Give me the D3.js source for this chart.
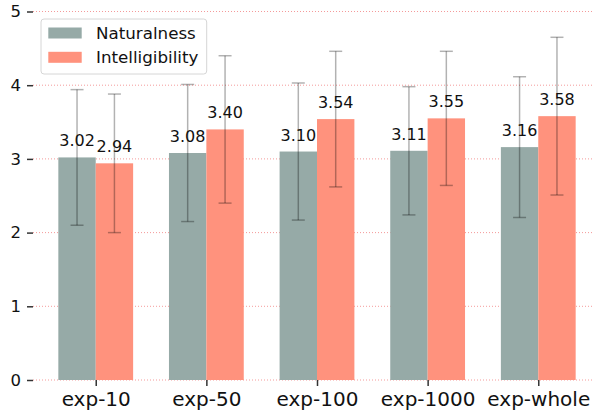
<!DOCTYPE html>
<html><head><meta charset="utf-8">
<script src="https://cdn.jsdelivr.net/npm/d3@7"></script>
<style>body{margin:0;background:#fff}svg{display:block;font-family:"DejaVu Sans",sans-serif}</style>
</head><body>
<svg id="c" width="593" height="412"></svg>
<script>
const categories = ["exp-10","exp-50","exp-100","exp-1000","exp-whole"];
const seriesNames = ["Naturalness","Intelligibility"];
const naturalness = [3.02, 3.08, 3.10, 3.11, 3.16];
const intelligibility = [2.94, 3.40, 3.54, 3.55, 3.58];
const naturalnessErr = [0.92, 0.93, 0.93, 0.87, 0.955];
const intelligibilityErr = [0.94, 1.00, 0.92, 0.91, 1.07];
const yTicks = [0,1,2,3,4,5];
const colors = ["#96aaa7","#ff927d"];

const svg = d3.select("#c");
const mLeft = 33, mRight = 601, mTop = 11.5, mBottom = 380;
const x = d3.scaleLinear().domain([-0.567, 4.567]).range([mLeft, mRight]);
const y = d3.scaleLinear().domain([0,5]).range([mBottom, mTop]);
const bw = 0.338;

// grid
svg.append("g").selectAll("line").data(yTicks).join("line")
  .attr("x1", mLeft).attr("x2", 593)
  .attr("y1", d=>y(d)).attr("y2", d=>y(d))
  .attr("stroke","#f07878").attr("stroke-opacity",0.75)
  .attr("stroke-width",1).attr("stroke-dasharray","1,2");

const series = [
  {name: seriesNames[0], vals: naturalness, err: naturalnessErr, off: -bw/2, color: colors[0]},
  {name: seriesNames[1], vals: intelligibility, err: intelligibilityErr, off: bw/2, color: colors[1]}
];

series.forEach(s => {
  const g = svg.append("g");
  g.selectAll("rect").data(s.vals).join("rect")
    .attr("x", (d,i)=>x(i + s.off - bw/2))
    .attr("width", x(bw) - x(0))
    .attr("y", d=>y(d)).attr("height", d=>y(0)-y(d))
    .attr("fill", s.color);
});

series.forEach(s => {
  const g = svg.append("g").attr("stroke","#000").attr("stroke-opacity",0.3).attr("stroke-width",1.5);
  s.vals.forEach((v,i) => {
    const cx = x(i + s.off);
    const lo = y(v - s.err[i]), hi = y(v + s.err[i]);
    g.append("line").attr("x1",cx).attr("x2",cx).attr("y1",lo).attr("y2",hi);
    g.append("line").attr("x1",cx-6.5).attr("x2",cx+6.5).attr("y1",lo).attr("y2",lo);
    g.append("line").attr("x1",cx-6.5).attr("x2",cx+6.5).attr("y1",hi).attr("y2",hi);
  });
});

// value labels
series.forEach(s => {
  svg.append("g").selectAll("text").data(s.vals).join("text")
    .attr("x",(d,i)=>x(i + s.off))
    .attr("y", d=>y(d) - 11)
    .attr("text-anchor","middle")
    .attr("font-size","16px").attr("fill","#111")
    .text(d=>d.toFixed(2));
});

// y axis
const ya = svg.append("g").attr("transform",`translate(${mLeft},0)`)
  .call(d3.axisLeft(y).tickValues(yTicks).tickFormat(d3.format("d")).tickSize(6).tickPadding(6));
ya.select(".domain").remove();
ya.selectAll(".tick line").attr("stroke","#333").attr("stroke-width",1.5);
ya.selectAll(".tick text").attr("font-size","16.5px").attr("fill","#111").attr("font-family","DejaVu Sans");

// x axis
const xa = svg.append("g").attr("transform",`translate(0,${mBottom})`)
  .call(d3.axisBottom(x).tickValues(d3.range(categories.length)).tickFormat(i=>categories[i]).tickSize(6).tickPadding(6));
xa.select(".domain").remove();
xa.selectAll(".tick line").attr("stroke","#333").attr("stroke-width",1.5);
xa.selectAll(".tick text").attr("font-size","20px").attr("fill","#111").attr("font-family","DejaVu Sans");

// legend
const lg = svg.append("g");
lg.append("rect").attr("x",41).attr("y",19).attr("width",165.7).attr("height",55)
  .attr("rx",3).attr("fill","#fff").attr("fill-opacity",0.8).attr("stroke","#d6d6d6");
series.forEach((s,i) => {
  const cy = 33 + i*24.3;
  lg.append("rect").attr("x",48.3).attr("y",cy-5.5).attr("width",33.4).attr("height",11).attr("fill",s.color);
  lg.append("text").attr("x",96).attr("y",cy).attr("dy","0.35em")
    .attr("font-size","16.7px").attr("fill","#111").text(s.name);
});
</script>
</body></html>
